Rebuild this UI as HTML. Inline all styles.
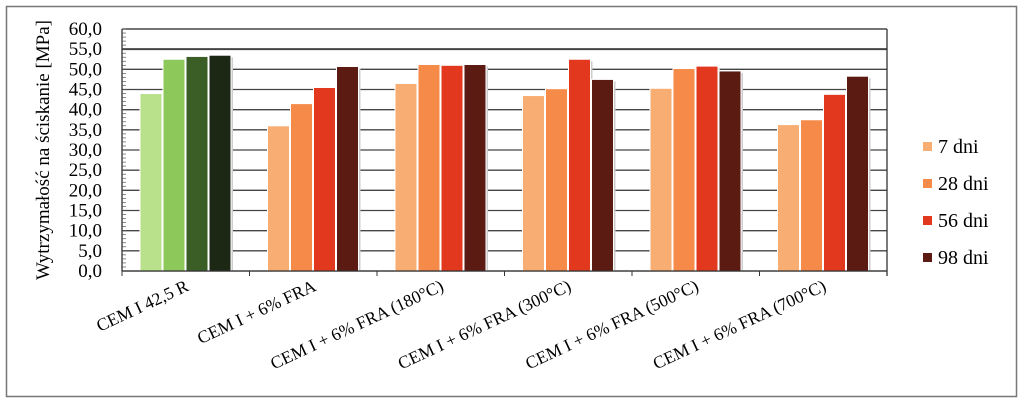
<!DOCTYPE html>
<html><head><meta charset="utf-8"><style>
body{margin:0;background:#fff;}
svg,svg text{font-family:"Liberation Serif","DejaVu Serif","Times New Roman",serif;fill:#000;}
</style></head><body>
<svg width="1023" height="403" font-family="Liberation Serif, DejaVu Serif, serif">
<rect x="6.5" y="6.5" width="1010" height="390" fill="#fff" stroke="#777" stroke-width="1.5"/>
<g id="grid"></g><g id="bars"></g><g id="axes"></g><g id="legend"></g>
<text transform="translate(49,150) rotate(-90)" text-anchor="middle" font-size="19" font-family="Liberation Serif, serif">Wytrzymałość na ściskanie [MPa]</text>
</svg>
<script>
const categories=["CEM I 42,5 R","CEM I + 6% FRA","CEM I + 6% FRA (180°C)","CEM I + 6% FRA (300°C)","CEM I + 6% FRA (500°C)","CEM I + 6% FRA (700°C)"];
const series=["7 dni","28 dni","56 dni","98 dni"];
const d7=[44.0,36.0,46.5,43.5,45.3,36.3];
const d28=[52.5,41.5,51.2,45.2,50.2,37.5];
const d56=[53.2,45.5,51.0,52.5,50.8,43.8];
const d98=[53.5,50.7,51.2,47.5,49.6,48.3];
const yTicks=[0,5,10,15,20,25,30,35,40,45,50,55,60];
const ns="http://www.w3.org/2000/svg";
const X0=122,X1=887,Y0=271,Y1=29,YMAX=60;
const gw=(X1-X0)/categories.length;
const y=v=>Y0-(v/YMAX)*(Y0-Y1);
function mk(t,a,p){const e=document.createElementNS(ns,t);for(const k in a)e.setAttribute(k,a[k]);p.appendChild(e);return e;}
const grid=document.getElementById('grid'),bars=document.getElementById('bars'),axes=document.getElementById('axes'),leg=document.getElementById('legend');
const FF="Liberation Serif, DejaVu Serif, serif";
yTicks.forEach(v=>{
 const l=mk('line',{x1:X0,x2:X1,y1:y(v),y2:y(v),stroke:v==60?'#222':'#444','stroke-width':v==55?2:1.3},grid);
 
 
 const t=mk('text',{x:102,y:y(v)+6,'text-anchor':'end','font-size':19,'font-family':FF},axes);
 t.textContent=v.toFixed(1).replace('.',',');
 
 
});
for(let v=0;v<=60;v+=1){const m=mk('line',{x1:X0,x2:X0+4,y1:y(v),y2:y(v),stroke:'#555','stroke-width':0.7},axes);
 
 }
const ax=mk('line',{x1:X0,x2:X0,y1:Y1,y2:Y0,stroke:'#333','stroke-width':1.3},axes);


const rx=mk('line',{x1:X1,x2:X1,y1:Y1,y2:Y0+5,stroke:'#333','stroke-width':1.3},axes);


const bx=mk('line',{x1:X0,x2:X1,y1:Y0,y2:Y0,stroke:'#333','stroke-width':1.3},axes);


const green=['#b9e08a','#8cc95a','#3a5e25','#1c2814'];
const red=['#f8ae72','#f58a49','#e2391e','#5b1a12'];
const vals=[d7,d28,d56,d98];
categories.forEach((c,i)=>{
 const gx=X0+i*gw;
 const tk=mk('line',{x1:gx,x2:gx,y1:Y0,y2:Y0+5,stroke:'#333'},axes);
 
 
 vals.forEach((s,j)=>{
  const bxp=gx+18+j*23;
  const sh=mk('rect',{x:bxp+2,y:y(s[i])+2,width:22,height:Y0-y(s[i])-2,fill:'#ccc'},bars);
  
  
  const r=mk('rect',{x:bxp,y:y(s[i]),width:22,height:Y0-y(s[i]),fill:(i==0?green:red)[j],stroke:'#fff','stroke-width':1},bars);
  
  
 });
 const t=mk('text',{transform:`translate(${gx+gw/2+4},290) rotate(-25)`,'text-anchor':'end','font-size':17.5,'font-family':FF},axes);
 t.textContent=c;
 
 
});
series.forEach((s,j)=>{
 const yy=153+j*37;
 const r=mk('rect',{x:923,y:yy-11,width:9,height:9,fill:red[j]},leg);
 
 
 const t=mk('text',{x:938,y:yy,'font-size':20,'font-family':FF},leg);
 t.textContent=s;
 
 
});
</script>
</body></html>
